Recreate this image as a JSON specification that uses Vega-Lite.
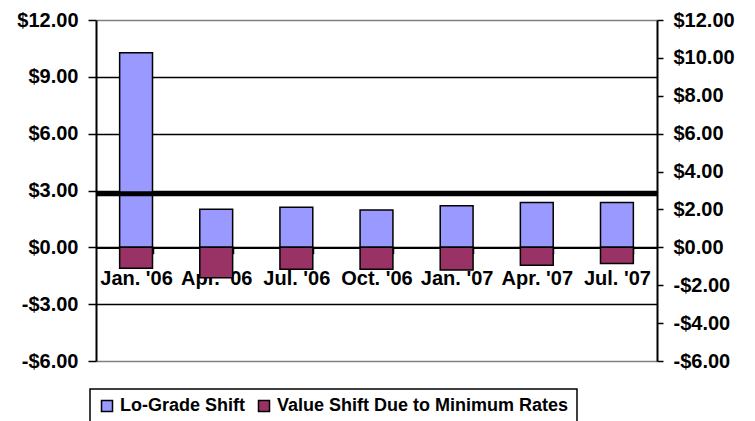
{
  "$schema": "https://vega.github.io/schema/vega-lite/v6.json",
  "width": 561,
  "height": 341,
  "autosize": "none",
  "padding": {"left": 96, "top": 20, "right": 98, "bottom": 60},
  "background": "white",
  "config": {
    "view": {"stroke": null},
    "font": "Liberation Sans",
    "legend": {"strokeColor": "black", "strokeWidth": 1.5, "padding": 8, "fillColor": "white"}
  },
  "datasets": {
    "bars": [
      {"quarter": "Jan. '06", "series": "Lo-Grade Shift", "value": 10.27},
      {"quarter": "Jan. '06", "series": "Value Shift Due to Minimum Rates", "value": -1.11},
      {"quarter": "Apr. '06", "series": "Lo-Grade Shift", "value": 2.01},
      {"quarter": "Apr. '06", "series": "Value Shift Due to Minimum Rates", "value": -1.61},
      {"quarter": "Jul. '06", "series": "Lo-Grade Shift", "value": 2.12},
      {"quarter": "Jul. '06", "series": "Value Shift Due to Minimum Rates", "value": -1.16},
      {"quarter": "Oct. '06", "series": "Lo-Grade Shift", "value": 1.97},
      {"quarter": "Oct. '06", "series": "Value Shift Due to Minimum Rates", "value": -1.16},
      {"quarter": "Jan. '07", "series": "Lo-Grade Shift", "value": 2.19},
      {"quarter": "Jan. '07", "series": "Value Shift Due to Minimum Rates", "value": -1.2},
      {"quarter": "Apr. '07", "series": "Lo-Grade Shift", "value": 2.36},
      {"quarter": "Apr. '07", "series": "Value Shift Due to Minimum Rates", "value": -0.94},
      {"quarter": "Jul. '07", "series": "Lo-Grade Shift", "value": 2.36},
      {"quarter": "Jul. '07", "series": "Value Shift Due to Minimum Rates", "value": -0.85}
    ],
    "ref": [{"level": 2.83}]
  },
  "layer": [
    {
      "data": {"name": "bars"},
      "mark": {"type": "bar", "stroke": "black", "strokeWidth": 1.5},
      "encoding": {
        "x": {
          "field": "quarter", "type": "nominal", "sort": null,
          "scale": {"paddingInner": 0.59, "paddingOuter": 0.295},
          "axis": {
            "offset": -113.3, "title": null, "labelAngle": 0, "tickBand": "extent",
            "domainColor": "black", "domainWidth": 1.5, "tickColor": "black", "tickSize": 6, "tickWidth": 1.5,
            "labelFontWeight": "bold", "labelFontSize": 20, "labelColor": "black", "labelPadding": 15, "labelLimit": 200
          }
        },
        "y": {
          "field": "value", "type": "quantitative", "stack": "zero",
          "scale": {"domain": [-6, 12], "nice": false, "zero": false},
          "axis": {
            "values": [-6, -3, 0, 3, 6, 9, 12], "grid": true, "title": null,
            "gridColor": {"condition": {"test": "datum.value === 12 || datum.value === -6", "value": "#808080"}, "value": "black"},
            "gridWidth": 1.5,
            "domainColor": "black", "domainWidth": 2, "tickColor": "black", "tickSize": 8, "tickWidth": 1.5,
            "labelFontWeight": "bold", "labelFontSize": 20, "labelColor": "black", "labelPadding": 10,
            "labelExpr": "(datum.value < 0 ? '-' : '') + '$' + format(abs(datum.value), '.2f')"
          }
        },
        "color": {
          "field": "series", "type": "nominal",
          "scale": {"domain": ["Lo-Grade Shift", "Value Shift Due to Minimum Rates"], "range": ["#9999FF", "#993366"]},
          "legend": {
            "orient": "none", "legendX": -6, "legendY": 369, "direction": "horizontal", "title": null,
            "symbolType": "square", "symbolSize": 121, "symbolStrokeColor": "black", "symbolOpacity": 1,
            "labelFontSize": 18, "labelFontWeight": "bold", "labelColor": "black", "labelLimit": 500,
            "columnPadding": 10, "labelOffset": 4
          }
        },
        "order": {"field": "series", "type": "nominal"}
      }
    },
    {
      "data": {"name": "ref"},
      "mark": {"type": "rule", "strokeWidth": 5, "color": "black"},
      "encoding": {
        "y": {
          "field": "level", "type": "quantitative",
          "scale": {"domain": [-6, 12], "nice": false, "zero": false},
          "axis": {
            "orient": "right", "values": [-6, -4, -2, 0, 2, 4, 6, 8, 10, 12], "grid": false, "title": null,
            "domainColor": "black", "domainWidth": 2, "tickColor": "black", "tickSize": 6, "tickWidth": 1.5,
            "labelFontWeight": "bold", "labelFontSize": 20, "labelColor": "black", "labelPadding": 10,
            "labelExpr": "(datum.value < 0 ? '-' : '') + '$' + format(abs(datum.value), '.2f')"
          }
        }
      }
    }
  ],
  "resolve": {"scale": {"y": "independent"}}
}
